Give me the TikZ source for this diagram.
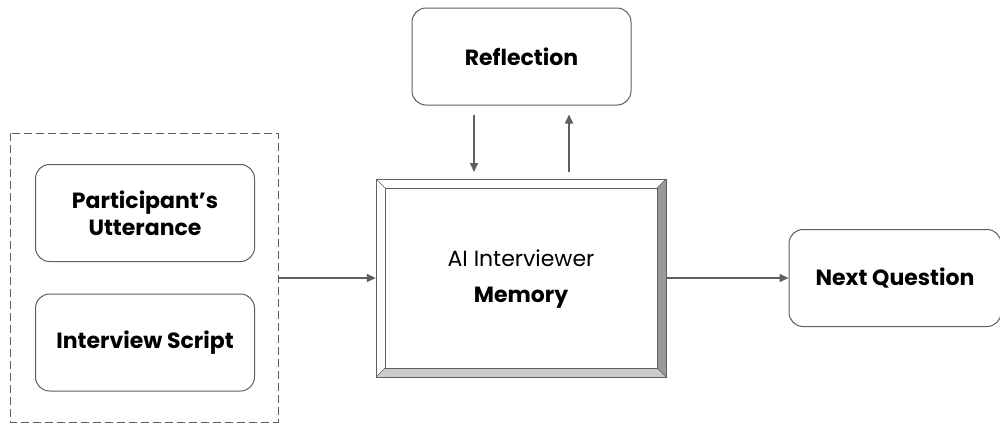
\documentclass[tikz,border=0pt]{standalone}
\usepackage{fontspec}
\setmainfont{Poppins}
\usetikzlibrary{arrows.meta}
\definecolor{ln}{HTML}{5F5F5F}
\begin{document}
\begin{tikzpicture}[x=1pt,y=-1pt,
  rbox/.style={draw=ln,line width=1pt,rounded corners=14pt,fill=white,align=center,font=\fontsize{22}{27}\selectfont\bfseries},
  conn/.style={draw=ln,line width=1.5pt,-{Triangle[length=9pt,width=8pt]}}]
\useasboundingbox (0,0) rectangle (1000,423);
% dashed group
\draw[ln,line width=1pt,dash pattern=on 8pt off 4pt] (10,133) rectangle (278,422);
\node (grp) at (144,278) [minimum width=268pt,minimum height=289pt] {};
% boxes
\node[rbox,minimum width=219pt,minimum height=97pt] (refl) at (521.5,56.5) {Reflection};
\node[rbox,minimum width=219pt,minimum height=97pt] (utt) at (145,213) {Participant’s\\Utterance};
\node[rbox,minimum width=219pt,minimum height=97pt] (scr) at (145,342.5) {Interview Script};
\node[rbox,minimum width=212pt,minimum height=97pt,anchor=west] (nq) at (788.5,278) {Next Question};
% memory bevel box
\coordinate (o1) at (376,179); \coordinate (o2) at (666,179);
\coordinate (o3) at (666,377); \coordinate (o4) at (376,377);
\coordinate (i1) at (385,188); \coordinate (i2) at (657,188);
\coordinate (i3) at (657,368); \coordinate (i4) at (385,368);
\fill[white] (o1) -- (o2) -- (o3) -- (o4) -- cycle;
\fill[black!40] (o2) -- (o3) -- (i3) -- (i2) -- cycle;
\fill[black!20] (o3) -- (o4) -- (i4) -- (i3) -- cycle;
\draw[ln,line width=0.8pt] (o1) -- (o2) -- (o3) -- (o4) -- cycle;
\draw[ln,line width=0.8pt] (i1) -- (i2) -- (i3) -- (i4) -- cycle;
\draw[ln,line width=0.6pt] (o1) -- (i1) (o2) -- (i2) (o3) -- (i3) (o4) -- (i4);
\node (mem) at (521,278) [minimum width=290pt,minimum height=198pt] {};
\node[font=\fontsize{22}{27}\selectfont] (ai) at (521,258) {AI Interviewer};
\node[font=\fontsize{22}{27}\selectfont\bfseries] (mt) at (521,298) {Memory};
% connectors
\draw[conn] (grp.east) -- (mem.west);
\draw[conn] (mem.east) -- (nq.west);
\draw[conn] (refl.south -| 474,0) ++(0,9) -- (474,172);
\coordinate (uA) at (569,172);
\draw[conn] (uA) -- ([yshift=-9pt]refl.south -| uA);
\end{tikzpicture}
\end{document}
